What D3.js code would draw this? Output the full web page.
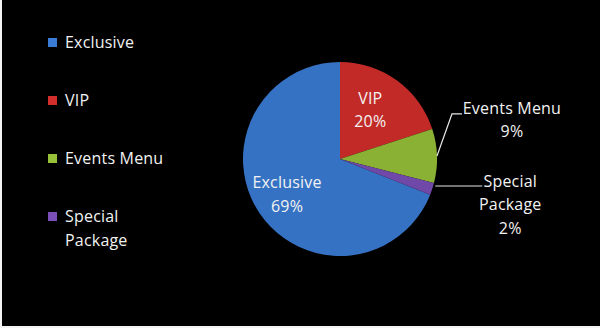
<!DOCTYPE html>
<html>
<head>
<meta charset="utf-8">
<script src="https://cdn.jsdelivr.net/npm/d3@7"></script>
<style>
  html, body { margin: 0; padding: 0; background: #ffffff; }
  svg { display: block; }
  text { font-family: "Open Sans", "Noto Sans", sans-serif; letter-spacing: 0.2px; }
</style>
</head>
<body>
<svg id="chart" width="600" height="328"></svg>
<script>
// Share of bookings by package
const categories = ["Exclusive", "VIP", "Events Menu", "Special Package"];
const values = [69, 20, 9, 2];
const colors = ["#3b7dd6", "#d42e2c", "#97c138", "#7a4fb8"];
const legendLabels = [["Exclusive"], ["VIP"], ["Events Menu"], ["Special", "Package"]];

const W = 600, H = 328;
const svg = d3.select("#chart");

// white frame strip on the left and bottom, black plot background
svg.append("rect").attr("width", W).attr("height", H).attr("fill", "#f4f4f4");
svg.append("rect").attr("x", 2).attr("y", 0).attr("width", W - 2).attr("height", H - 2).attr("fill", "#000000");

const cx = 340, cy = 159, r = 97;
const total = d3.sum(values);
// first slice is rotated so that the second slice starts at 12 o'clock
const rotation = (total - values[0]) / total * 2 * Math.PI;

const data = categories.map((c, i) => ({ name: c, value: values[i], color: colors[i] }));
const pie = d3.pie().value(d => d.value).sort(null)
  .startAngle(rotation).endAngle(rotation + 2 * Math.PI);
const arcs = pie(data);
const arc = d3.arc().innerRadius(0).outerRadius(r);

const defs = svg.append("defs");
data.forEach((d, i) => {
  const g = defs.append("radialGradient").attr("id", "grad" + i)
    .attr("gradientUnits", "userSpaceOnUse").attr("cx", cx).attr("cy", cy).attr("r", r);
  g.append("stop").attr("offset", "0%").attr("stop-color", d3.color(d.color).brighter(0.05));
  g.append("stop").attr("offset", "90%").attr("stop-color", d.color);
  g.append("stop").attr("offset", "100%").attr("stop-color", d3.color(d.color).darker(0.25));
});

const pg = svg.append("g").attr("transform", `translate(${cx},${cy})`);
pg.selectAll("path").data(arcs).join("path")
  .attr("d", arc)
  .attr("fill", (d, i) => `url(#grad${i})`);

// data labels
const labelColor = "#f2f2f2";
const fs = 16;
const lh = 23.5;
const pct = v => Math.round(v / total * 100) + "%";

function drawLines(x, yTop, lines) {
  const t = svg.append("text").attr("fill", labelColor).attr("font-size", fs).attr("text-anchor", "middle");
  lines.forEach((s, k) => {
    t.append("tspan").attr("x", x).attr("y", yTop + k * lh).text(s);
  });
}

arcs.forEach((a, i) => {
  const mid = (a.startAngle + a.endAngle) / 2;
  const lines = legendLabels[i].length > 1 ? legendLabels[i].concat([pct(a.data.value)]) : [a.data.name, pct(a.data.value)];
  if (a.data.value >= 15) {
    const rr = i === 0 ? 64 : 60;
    const x = cx + rr * Math.sin(mid) - (i === 0 ? 0 : 5), y = cy - rr * Math.cos(mid);
    drawLines(x, y - lh / 2 + 5, lines);
  } else {
    const ex = cx + r * Math.sin(mid), ey = cy - r * Math.cos(mid);
    let pts;
    if (i === 2) {
      pts = [[ex, ey], [ex + 15, ey - 42], [ex + 25, ey - 42]];
      drawLines(ex + 75, ey - 42, lines);
    } else {
      pts = [[ex + 3, ey - 3], [ex + 50, ey - 3]];
      drawLines(ex + 78, ey - 2, lines);
    }
    svg.append("path").attr("d", d3.line()(pts))
      .attr("fill", "none").attr("stroke", "#e6e6e6").attr("stroke-width", 1.2);
  }
});

// legend
const legY = d3.scalePoint().domain(categories).range([43, 217]);
const lg = svg.append("g");
categories.forEach((c, i) => {
  const y = legY(c);
  lg.append("rect").attr("x", 48).attr("y", y - 5).attr("width", 9).attr("height", 9)
    .attr("fill", colors[i]);
  const t = lg.append("text").attr("fill", labelColor).attr("font-size", fs);
  legendLabels[i].forEach((s, k) => {
    t.append("tspan").attr("x", 65).attr("y", y + 5 + k * lh).text(s);
  });
});
</script>
</body>
</html>
